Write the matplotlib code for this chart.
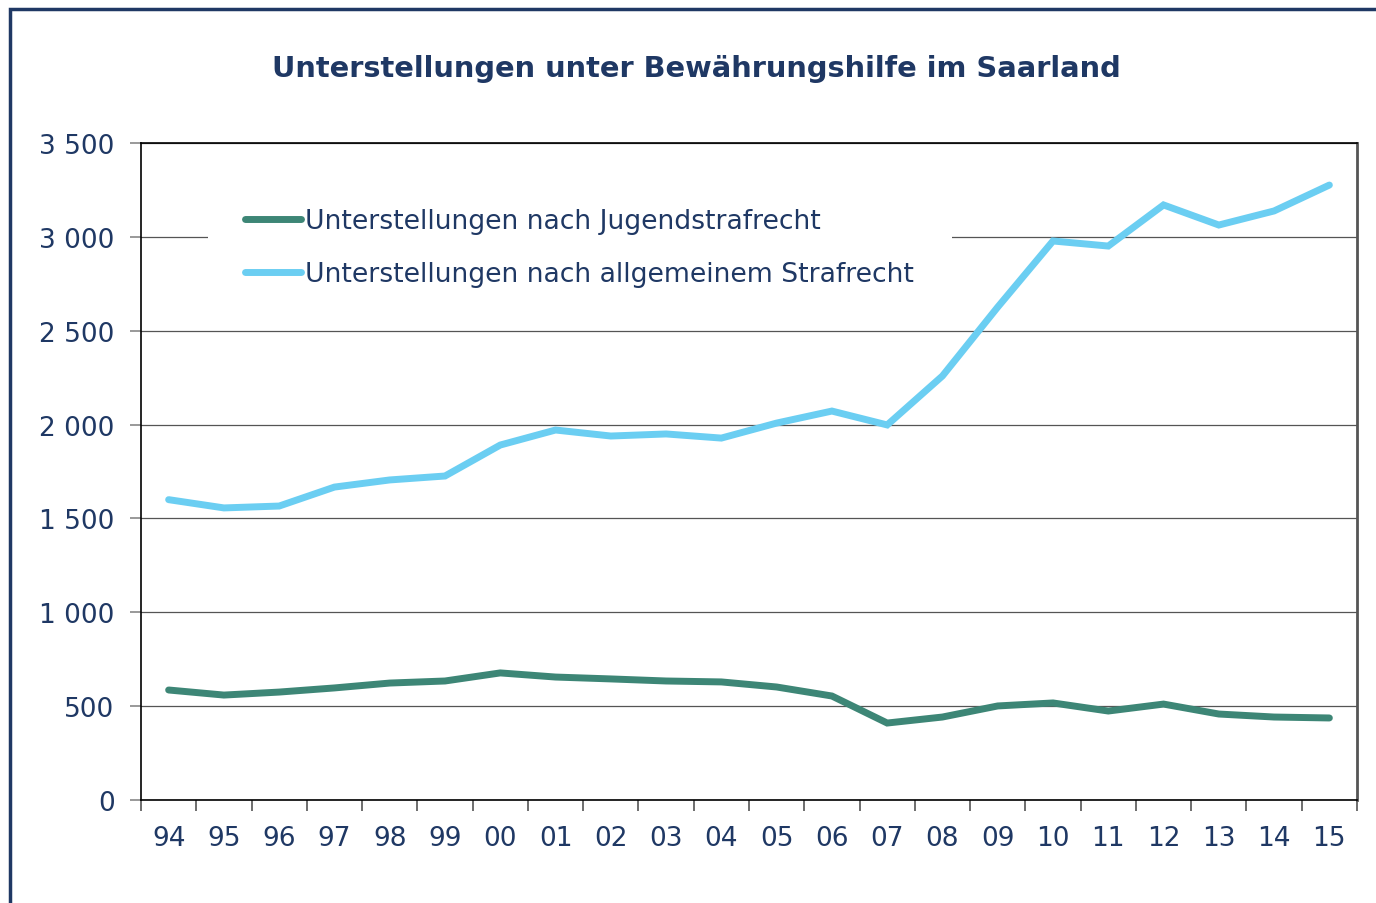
import matplotlib
matplotlib.use("Agg")
import matplotlib.pyplot as plt
from matplotlib.patches import Rectangle

# Data
years = ["94", "95", "96", "97", "98", "99", "00", "01", "02", "03", "04",
         "05", "06", "07", "08", "09", "10", "11", "12", "13", "14", "15"]
jugend = [586, 559, 575, 597, 623, 634, 677, 655, 645, 634, 629,
          602, 554, 410, 442, 501, 517, 474, 511, 458, 442, 437]
allgemein = [1600, 1556, 1566, 1667, 1705, 1726, 1891, 1971, 1939, 1950, 1928,
             2008, 2072, 1998, 2259, 2626, 2978, 2951, 3170, 3063, 3138, 3276]

navy = "#1F3864"
green = "#3D8676"
blue = "#6BCEF2"

plt.rcParams["font.family"] = ["DejaVu Sans"]

fig = plt.figure(figsize=(13.76, 9.04), dpi=100)
ax = fig.add_axes([141 / 1376, 1 - 801 / 904, 1216 / 1376, 657 / 904])

# figure border (only top and left are visible in the reference)
fig.patches.append(Rectangle((9.5 / 1376, -0.1), 1.2, (904 - 10) / 904 + 0.1,
                             transform=fig.transFigure, fill=False,
                             edgecolor=navy, lw=2.5))

x = list(range(len(years)))
ax.plot(x, jugend, color=green, lw=5, solid_capstyle="round",
        solid_joinstyle="miter", label="Unterstellungen nach Jugendstrafrecht", zorder=3)
ax.plot(x, allgemein, color=blue, lw=5, solid_capstyle="round",
        solid_joinstyle="miter", label="Unterstellungen nach allgemeinem Strafrecht", zorder=3)

ax.set_xlim(-0.5, len(years) - 0.5)
ax.set_ylim(0, 3500)
yt = list(range(0, 3501, 500))
ax.set_yticks(yt)
ax.set_yticklabels([f"{v:,}".replace(",", " ") for v in yt])
ax.set_xticks(x)
ax.set_xticklabels(years)
ax.set_xticks([i - 0.5 for i in range(len(years) + 1)], minor=True)
ax.tick_params(axis="x", which="major", length=0, pad=18, labelsize=19, labelcolor=navy)
ax.tick_params(axis="x", which="minor", length=8, color="#555555", width=1.2)
ax.tick_params(axis="y", length=8, color="#888888", width=1.2, pad=11,
               labelsize=19, labelcolor=navy)

ax.grid(axis="y", color="#555555", lw=0.9)
ax.set_axisbelow(True)
for side in ["top", "bottom", "left"]:
    ax.spines[side].set_color("black")
    ax.spines[side].set_linewidth(1.2)
ax.spines["right"].set_color("#555555")
ax.spines["right"].set_linewidth(2)

fig.text(696 / 1376, 1 - 69 / 904, "Unterstellungen unter Bewährungshilfe im Saarland",
         ha="center", va="center", fontsize=20.8, fontweight="bold", color=navy)

leg = ax.legend(loc="upper left", bbox_to_anchor=(67 / 1216, 1 - 28 / 657),
                frameon=True, fontsize=19.2, handlelength=2.1, handletextpad=0.15,
                labelspacing=1.0, borderpad=1.4, borderaxespad=0)
leg.get_frame().set_edgecolor("none")
leg.get_frame().set_facecolor("white")
leg.get_frame().set_alpha(1)
leg.get_frame().set_boxstyle("square", pad=0)
for t in leg.get_texts():
    t.set_color(navy)

fig.savefig("out.png", dpi=100)
